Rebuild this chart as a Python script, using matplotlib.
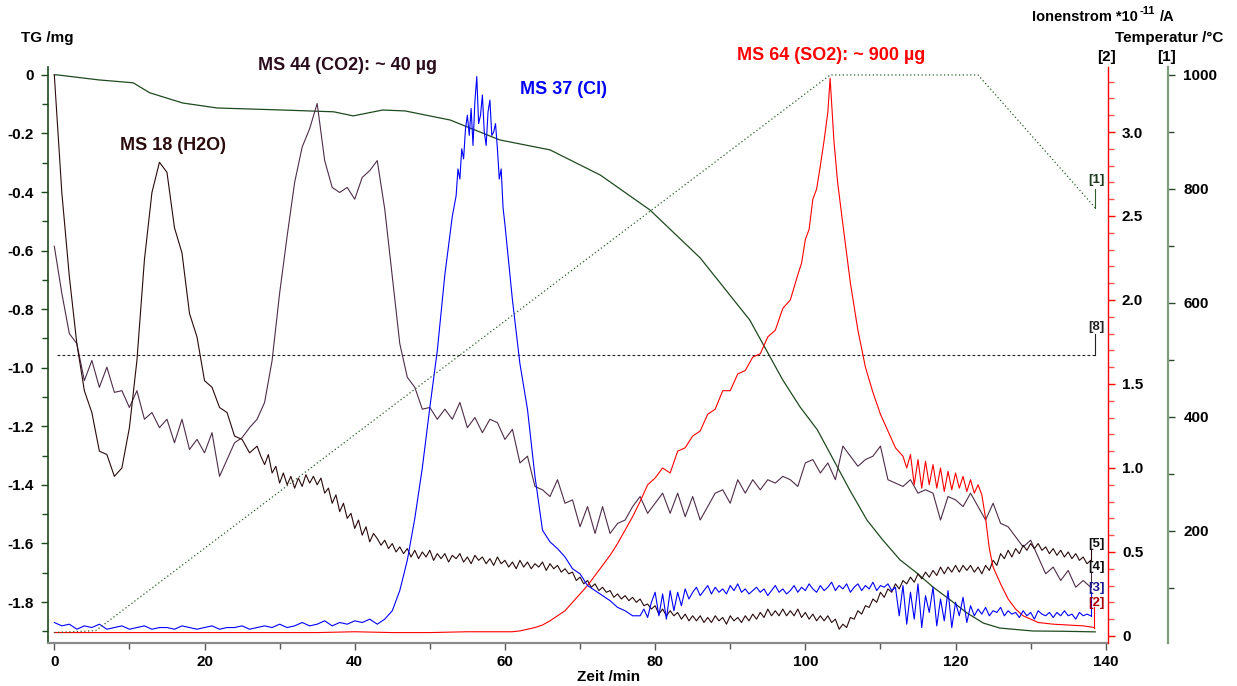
import numpy as np
import matplotlib
matplotlib.use('Agg')
import matplotlib.pyplot as plt
from matplotlib.ticker import MultipleLocator, FuncFormatter

plt.rcParams['font.family'] = ['Liberation Sans', 'DejaVu Sans']
plt.rcParams['font.weight'] = 'bold'
plt.rcParams['axes.unicode_minus'] = False

# ---------------- data ----------------
# MS 18 (H2O), ion current *1e-11 A: 1-min samples t=0..26, then 0.5-min t=27..138
ms18_head = [3.34, 2.64, 2.14, 1.74, 1.46, 1.33, 1.10, 1.08, 0.95, 1.00,
             1.24, 1.64, 2.24, 2.64, 2.82, 2.76, 2.43, 2.28, 1.92, 1.78,
             1.52, 1.48, 1.36, 1.33, 1.19, 1.17, 1.09]
ms18_tail = [1.13, 1.07, 1.02, 1.08, 0.97, 1.01, 0.91, 0.97, 0.90, 0.95,
             0.88, 0.94, 0.89, 0.96, 0.91, 0.95, 0.90, 0.94, 0.85, 0.88,
             0.79, 0.84, 0.74, 0.79, 0.70, 0.73, 0.64, 0.69, 0.60, 0.65,
             0.56, 0.61, 0.58, 0.54, 0.57, 0.52, 0.55, 0.50, 0.53, 0.49,
             0.52, 0.47, 0.51, 0.46, 0.50, 0.47, 0.51, 0.45, 0.49, 0.46,
             0.49, 0.44, 0.48, 0.46, 0.49, 0.44, 0.47, 0.43, 0.48, 0.45,
             0.47, 0.43, 0.46, 0.42, 0.47, 0.43, 0.45, 0.41, 0.44, 0.40,
             0.45, 0.41, 0.44, 0.40, 0.43, 0.41, 0.44, 0.39, 0.43, 0.40,
             0.42, 0.38, 0.40, 0.37, 0.38, 0.33, 0.35, 0.31, 0.33, 0.29,
             0.31, 0.27, 0.29, 0.26, 0.27, 0.23, 0.25, 0.22, 0.24, 0.21,
             0.23, 0.20, 0.22, 0.18, 0.19, 0.16, 0.18, 0.13, 0.16, 0.12,
             0.15, 0.12, 0.14, 0.10, 0.13, 0.09, 0.12, 0.09, 0.12, 0.08,
             0.11, 0.08, 0.12, 0.09, 0.11, 0.07, 0.12, 0.09, 0.11, 0.08,
             0.12, 0.09, 0.13, 0.10, 0.14, 0.11, 0.16, 0.12, 0.15, 0.12,
             0.16, 0.12, 0.15, 0.12, 0.16, 0.11, 0.14, 0.10, 0.13, 0.09,
             0.12, 0.09, 0.12, 0.08, 0.10, 0.04, 0.07, 0.05, 0.11, 0.10,
             0.15, 0.13, 0.18, 0.17, 0.22, 0.20, 0.26, 0.23, 0.28, 0.26,
             0.31, 0.28, 0.33, 0.31, 0.35, 0.32, 0.37, 0.34, 0.38, 0.35,
             0.39, 0.36, 0.41, 0.37, 0.41, 0.38, 0.42, 0.38, 0.42, 0.39,
             0.42, 0.38, 0.41, 0.37, 0.42, 0.39, 0.45, 0.42, 0.49, 0.46,
             0.51, 0.47, 0.52, 0.49, 0.54, 0.51, 0.55, 0.52, 0.55, 0.51,
             0.53, 0.49, 0.52, 0.48, 0.51, 0.47, 0.50, 0.46, 0.49, 0.45,
             0.47, 0.43, 0.45]
ms18_t = [float(v) for v in range(len(ms18_head))] + \
         [27 + 0.5 * i for i in range(len(ms18_tail))]
ms18 = ms18_head + ms18_tail

# MS 44 (CO2), 1-min samples from t=0
ms44 = [2.32, 2.04, 1.80, 1.74, 1.52, 1.64, 1.48, 1.60, 1.45, 1.46,
        1.36, 1.46, 1.29, 1.33, 1.24, 1.29, 1.15, 1.29, 1.11, 1.17,
        1.09, 1.21, 0.95, 1.05, 1.15, 1.18, 1.24, 1.29, 1.39, 1.64,
        2.04, 2.38, 2.70, 2.91, 3.02, 3.17, 2.83, 2.67, 2.64, 2.67,
        2.60, 2.73, 2.77, 2.83, 2.54, 2.14, 1.74, 1.54, 1.48, 1.35,
        1.36, 1.29, 1.35, 1.29, 1.39, 1.24, 1.30, 1.21, 1.29, 1.27,
        1.17, 1.23, 1.03, 1.07, 0.89, 0.87, 0.83, 0.93, 0.79, 0.81,
        0.65, 0.77, 0.61, 0.77, 0.61, 0.67, 0.69, 0.77, 0.83, 0.73,
        0.79, 0.85, 0.73, 0.85, 0.71, 0.83, 0.69, 0.77, 0.85, 0.87,
        0.79, 0.93, 0.85, 0.93, 0.87, 0.93, 0.91, 0.95, 0.93, 0.89,
        1.03, 1.05, 0.97, 1.03, 0.93, 1.13, 1.07, 1.01, 1.05, 1.07,
        1.13, 0.93, 0.91, 0.89, 0.93, 0.85, 0.87, 0.85, 0.69, 0.83,
        0.81, 0.77, 0.85, 0.77, 0.69, 0.79, 0.67, 0.65, 0.59, 0.53,
        0.57, 0.47, 0.37, 0.41, 0.33, 0.39, 0.29, 0.33, 0.29]

# MS 37 (Cl)
ms37_a = [0.08, 0.06, 0.07, 0.04, 0.06, 0.05, 0.07, 0.04, 0.05, 0.06,
          0.04, 0.05, 0.06, 0.04, 0.05, 0.05, 0.04, 0.06, 0.05, 0.04,
          0.05, 0.06, 0.04, 0.05, 0.05, 0.06, 0.04, 0.05, 0.06, 0.05,
          0.07, 0.05, 0.06, 0.08, 0.06, 0.07, 0.09, 0.06, 0.08, 0.07,
          0.09, 0.08, 0.10,
          0.07, 0.10, 0.15, 0.27, 0.45, 0.70, 1.00, 1.36, 1.70, 2.15, 2.50]  # t=0..53
ms37_b = [2.62, 2.78, 2.72, 2.90, 2.84, 3.02, 3.10, 2.98, 3.14, 2.92,
          3.18, 3.33, 3.05, 3.10, 3.22, 3.00, 2.92, 3.12, 3.19, 2.98,
          3.00, 3.05, 2.90, 2.72, 2.78, 2.55]                            # t=53.5..59.75
ms37_c = [2.45, 2.00, 1.62, 1.35, 0.95, 0.63, 0.56, 0.52, 0.47, 0.40,
          0.37, 0.30, 0.27, 0.24, 0.21, 0.17, 0.15, 0.12]                # t=60..77
ms37_d = [0.12, 0.16, 0.11, 0.20, 0.26, 0.12, 0.25, 0.10, 0.27, 0.15,
          0.26, 0.18, 0.28, 0.22, 0.26, 0.29, 0.24, 0.27, 0.30, 0.25,
          0.29, 0.26, 0.28, 0.25, 0.30, 0.27, 0.31, 0.26, 0.28, 0.25,
          0.27, 0.29, 0.26, 0.28, 0.24, 0.27, 0.30, 0.26, 0.28, 0.25,
          0.27, 0.30, 0.26, 0.29, 0.27, 0.31, 0.28, 0.26, 0.30, 0.27,
          0.29, 0.32, 0.27, 0.30, 0.28, 0.31, 0.26, 0.29, 0.31, 0.27,
          0.30, 0.28, 0.32, 0.27, 0.30, 0.29, 0.31, 0.27, 0.29, 0.12,
          0.30, 0.07, 0.26, 0.10, 0.31, 0.05, 0.24, 0.14, 0.29, 0.06,
          0.22, 0.09, 0.27, 0.05, 0.20, 0.12, 0.23, 0.08, 0.18, 0.12,
          0.16, 0.13, 0.17, 0.12, 0.15, 0.14, 0.17, 0.12, 0.15, 0.13,
          0.14, 0.11, 0.15, 0.12, 0.14, 0.10, 0.15, 0.13, 0.12, 0.14,
          0.11, 0.14, 0.12, 0.15, 0.12, 0.13, 0.10, 0.14, 0.12, 0.13,
          0.12]                                                          # t=78..138
ms37_t = ([float(v) for v in range(len(ms37_a))] +
          [53.5 + 0.25 * i for i in range(len(ms37_b))] +
          [60.0 + i for i in range(len(ms37_c))] +
          [78 + 0.5 * i for i in range(len(ms37_d))])
ms37 = ms37_a + ms37_b + ms37_c + ms37_d

# MS 64 (SO2): times (min) and values
ms64_t = [0, 5, 10, 15, 20, 25, 30, 35, 40, 45, 50, 55, 60,
          61, 62, 63, 64, 65, 66, 67, 68, 69, 70, 71, 72, 73, 74, 75,
          76, 77, 78, 79, 80, 81, 82, 83, 84, 85, 86, 87, 88, 89, 90,
          91, 92, 93, 94, 95, 96, 97, 98, 99, 99.5, 100, 100.5, 101,
          101.5, 102, 102.5, 103, 103.3, 103.6, 103.8, 104.3, 105, 106,
          107, 108, 109, 110, 111, 112, 113, 113.5, 114, 114.5, 115,
          115.5, 116, 116.5, 117, 117.5, 118, 118.5, 119, 119.5, 120,
          120.5, 121, 121.5, 122, 122.5, 123, 123.5, 124, 124.5, 125,
          126, 127, 128, 129, 130, 131, 133, 135, 137, 138.5]
ms64 = [0.02, 0.02, 0.02, 0.02, 0.02, 0.02, 0.02, 0.02, 0.025, 0.02, 0.02, 0.025, 0.025,
        0.025, 0.03, 0.04, 0.05, 0.065, 0.09, 0.12, 0.15, 0.20, 0.25, 0.30, 0.36, 0.42, 0.48, 0.55,
        0.63, 0.71, 0.80, 0.90, 0.94, 1.00, 0.97, 1.10, 1.12, 1.19, 1.22, 1.32, 1.35, 1.46, 1.46,
        1.56, 1.58, 1.66, 1.68, 1.78, 1.82, 1.95, 2.00, 2.15, 2.22, 2.36, 2.42, 2.60,
        2.66, 2.80, 2.95, 3.12, 3.32, 3.10, 2.95, 2.70, 2.45, 2.10,
        1.82, 1.60, 1.45, 1.32, 1.22, 1.12, 1.07, 1.00, 1.08, 0.90, 1.05,
        0.88, 1.04, 0.90, 1.02, 0.88, 1.00, 0.86, 0.98, 0.87, 0.97,
        0.88, 0.95, 0.86, 0.93, 0.85, 0.90, 0.84, 0.70, 0.52, 0.41,
        0.31, 0.22, 0.16, 0.12, 0.10, 0.08, 0.07, 0.065, 0.06, 0.05]

# TG (mg)
tg_t = [0, 0.4, 5.9, 10.5, 12.7, 17.1, 21.7, 30.5, 37.2, 39.8, 43.7, 46.7,
        52.7, 59.3, 66.0, 72.7, 79.3, 86.0, 92.6, 97.0, 99.3, 101.6, 105.9,
        108.2, 110.3, 112.6, 114.8, 117.0, 119.3, 121.5, 123.7, 125.9,
        130.3, 134.5, 138.6]
tg = [0.0, 0.0, -0.017, -0.027, -0.061, -0.096, -0.113, -0.120, -0.126,
      -0.140, -0.120, -0.123, -0.154, -0.222, -0.256, -0.342, -0.461,
      -0.625, -0.837, -1.042, -1.134, -1.212, -1.417, -1.520, -1.588,
      -1.656, -1.700, -1.749, -1.793, -1.837, -1.872, -1.889, -1.899,
      -1.900, -1.902]

# Temperature (degC)
temp_t = [0, 5.5, 103.3, 123.0, 138.6]
temp = [22, 25, 1000, 1000, 767]

# flat reference line [8] on ion-current scale
ref8_t = [0.4, 138.6]
ref8 = [1.673, 1.673]

# end labels (curve number, ion-scale height)
end_labels = ['[1]', '[8]', '[5]', '[4]', '[3]', '[2]']
end_label_y = [2.714, 1.839, 0.548, 0.411, 0.286, 0.196]

# ---------------- figure ----------------
W, H = 1237, 686
L, R, B, T = 48, 1108, 643, 67
fig = plt.figure(figsize=(W / 100, H / 100), dpi=100)
ax = fig.add_axes([L / W, 1 - B / H, (R - L) / W, (B - T) / H])
ax.set_xlim(-0.84, 140.3)
ax.set_ylim(-1.940, 0.027)
axm = ax.twinx()
axm.set_ylim(-0.042, 3.387)
axt = ax.twinx()
axt.set_ylim(3.5, 1014)
axt.spines['right'].set_position(('axes', 1.0566))

c_tg = '#1e4a1e'
c_temp = '#2c5e2c'
c_h2o = '#2a0a0c'
c_co2 = '#4e2d48'

t2 = np.arange(len(ms44))

axt.plot(temp_t, temp, color=c_temp, lw=0.9, linestyle=(0, (1, 2)))
ax.plot(tg_t, tg, color=c_tg, lw=0.9)
axm.plot(ref8_t, ref8, color='#222222', lw=0.8, linestyle=(0, (2.5, 2)))
axm.plot(t2, ms44, color=c_co2, lw=0.8)
axm.plot(ms18_t, ms18, color=c_h2o, lw=0.8)
axm.plot(ms64_t, ms64, color='#ff0000', lw=0.8)
axm.plot(ms37_t, ms37, color='#0000ff', lw=0.8)

# short end connectors to the labels
temp_end_ion = axm.transData.inverted().transform(
    axt.transData.transform((temp_t[-1], temp[-1])))[1]
ends = [(temp_t[-1], temp_end_ion, 2.66, c_temp),
        (ref8_t[-1], ref8[-1], 1.80, '#222222'),
        (ms18_t[-1], ms18[-1], 0.52, c_h2o),
        (t2[-1], ms44[-1], 0.38, c_co2),
        (ms37_t[-1], ms37[-1], 0.26, '#0000ff'),
        (ms64_t[-1], ms64[-1], 0.17, '#ff0000')]
for xe, y0, y1, c in ends:
    axm.plot([xe, xe], [y0, y1], color=c, lw=0.8)
lab_cols = ['#1e3a1e', '#222222', '#111111', '#111111', '#1a1a8a', '#aa0000']
for lab, yy, cc in zip(end_labels, end_label_y, lab_cols):
    axm.text(138.8, yy, lab, ha='center', va='center', fontsize=9.5,
             weight='bold', color=cc)

# spines
for a in (ax, axm, axt):
    a.spines['top'].set_visible(False)
ax.spines['right'].set_visible(False)
ax.spines['left'].set_color(c_tg)
ax.spines['left'].set_linewidth(1.2)
ax.spines['bottom'].set_color('#8a8a8a')
ax.spines['bottom'].set_linewidth(1.6)
for s in ('left', 'bottom'):
    axm.spines[s].set_visible(False)
    axt.spines[s].set_visible(False)
axm.spines['right'].set_color('#ff0000')
axm.spines['right'].set_linewidth(1.0)
axt.spines['right'].set_color('#7f9c7f')
axt.spines['right'].set_linewidth(1.6)

# ticks
fs = 11
ax.xaxis.set_major_locator(MultipleLocator(20))
ax.xaxis.set_minor_locator(MultipleLocator(10))
ax.yaxis.set_major_locator(MultipleLocator(0.2))
ax.yaxis.set_minor_locator(MultipleLocator(0.1))
fmt1 = FuncFormatter(lambda v, p: '0' if abs(v) < 1e-9 else f'{v:.1f}')
ax.yaxis.set_major_formatter(fmt1)
ax.tick_params(axis='x', which='major', length=5, width=1.0, color='#555555',
               labelsize=fs, pad=4)
ax.tick_params(axis='x', which='minor', length=4, width=1.0, color='#555555')
ax.tick_params(axis='y', which='major', length=5, width=1.0, color=c_tg,
               labelsize=fs, pad=5)
ax.tick_params(axis='y', which='minor', length=4, width=1.0, color=c_tg)

axm.yaxis.set_major_locator(MultipleLocator(0.5))
axm.yaxis.set_minor_locator(MultipleLocator(0.1))
axm.yaxis.set_major_formatter(fmt1)
axm.tick_params(axis='y', which='major', length=5, width=1.0, color='#ff0000',
                labelsize=fs, pad=5)
axm.tick_params(axis='y', which='minor', length=4, width=1.0, color='#ff5050')

axt.yaxis.set_major_locator(MultipleLocator(200))
axt.yaxis.set_minor_locator(MultipleLocator(100))
axt.tick_params(axis='y', which='major', length=5, width=1.0, color='#2c4a2c',
                labelsize=fs, pad=6)
axt.tick_params(axis='y', which='minor', length=4, width=1.0, color='#2c4a2c')

for lab in ax.get_xticklabels() + ax.get_yticklabels() + \
        axm.get_yticklabels() + axt.get_yticklabels():
    lab.set_fontweight('bold')

# axis titles
def ftxt(x, y, s, **kw):
    return fig.text(x / W, 1 - y / H, s, **kw)

ftxt(21, 38, 'TG /mg', ha='left', va='center', fontsize=11, weight='bold')
t_ion = ftxt(1032, 17, 'Ionenstrom *10', ha='left', va='center', fontsize=10.5,
             weight='bold')
t_sup = fig.text(0, 0, '-11', fontsize=8, weight='bold', ha='left',
                 va='baseline', transform=None)
t_sup.set_transform(matplotlib.transforms.offset_copy(
    fig.transFigure, fig=fig, x=0, y=0))
# place superscript and unit right after the main text using annotations
t_sup.remove()
a_sup = fig.text(0, 0, '')
a_sup.remove()
ann1 = plt.annotate('-11', xy=(1.0, 0.55), xycoords=t_ion,
                    xytext=(1, 0), textcoords='offset points',
                    ha='left', va='bottom', fontsize=8, weight='bold',
                    annotation_clip=False)
ann2 = plt.annotate('/A', xy=(1.0, 0.0), xycoords=t_ion,
                    xytext=(16, 0), textcoords='offset points',
                    ha='left', va='bottom', fontsize=10.5, weight='bold',
                    annotation_clip=False)
ftxt(1115, 38, 'Temperatur /°C', ha='left', va='center', fontsize=11,
     weight='bold')
ftxt(1107, 57, '[2]', ha='center', va='center', fontsize=11, weight='bold')
ftxt(1167, 57, '[1]', ha='center', va='center', fontsize=11, weight='bold')
ftxt(609, 677, 'Zeit /min', ha='center', va='center', fontsize=11,
     weight='bold')

# curve annotations
ftxt(173, 145, 'MS 18 (H2O)', ha='center', va='center', fontsize=13,
     weight='bold', color='#2a0c0c')
ftxt(348, 65, 'MS 44 (CO2): ~ 40 µg', ha='center', va='center', fontsize=13,
     weight='bold', color='#2a0c1c')
ftxt(563, 90, 'MS 37 (Cl)', ha='center', va='center', fontsize=13,
     weight='bold', color='#0000ff')
ftxt(831, 55, 'MS 64 (SO2): ~ 900 µg', ha='center', va='center', fontsize=13,
     weight='bold', color='#ff0000')

fig.savefig('out.png', dpi=100)
